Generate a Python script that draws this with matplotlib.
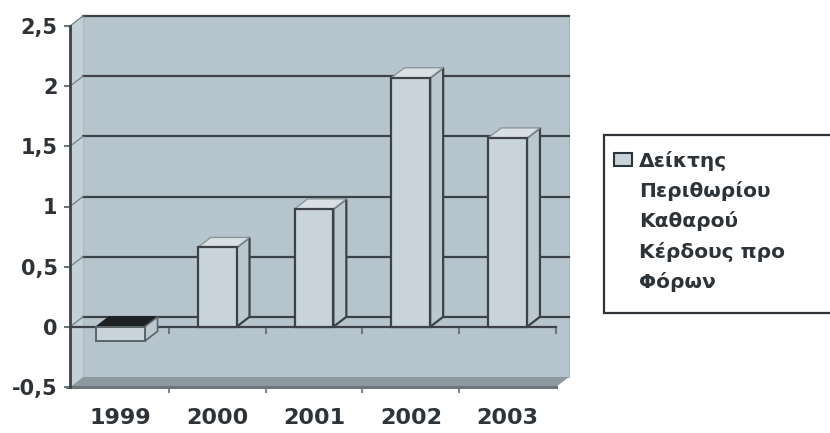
import matplotlib
matplotlib.use("Agg")
import matplotlib.pyplot as plt
from matplotlib.patches import Rectangle, Polygon

years = ["1999", "2000", "2001", "2002", "2003"]
values = [-0.12, 0.66, 0.98, 2.07, 1.57]
yticks = [-0.5, 0, 0.5, 1, 1.5, 2, 2.5]
ytick_labels = ["-0,5", "0", "0,5", "1", "1,5", "2", "2,5"]
legend_lines = ["Δείκτης", "Περιθωρίου", "Καθαρού", "Κέρδους προ", "Φόρων"]

W, H = 830, 433
fig = plt.figure(figsize=(W / 100, H / 100), dpi=100)
fig.patch.set_facecolor("white")

ax_l, ax_r, ax_t, ax_b = 70, 556, 26, 387
ax = fig.add_axes([ax_l / W, (H - ax_b) / H, (ax_r - ax_l) / W, (ax_b - ax_t) / H])
xmin, xmax = -0.52, 4.5
ymin, ymax = -0.5, 2.5
ax.set_xlim(xmin, xmax)
ax.set_ylim(ymin, ymax)
ax.set_facecolor("none")

# depth offsets in data units (13 px right, 10 px up)
dx = 13 / ((ax_r - ax_l) / (xmax - xmin))
dy = 10 / ((ax_b - ax_t) / (ymax - ymin))

line_c = "#3c4247"
txt_c = "#2e3338"
wall_c = "#b6c5cd"
side_c = "#c3d0d6"
floor_c = "#8e999f"
bar_c = "#c9d3da"
top_c = "#d8e0e5"
bside_c = "#bcc8cf"

# back wall
ax.add_patch(Rectangle((xmin + dx, ymin + dy), xmax - xmin, ymax - ymin,
                       facecolor=wall_c, edgecolor="#aab8c0", lw=0.8, zorder=0, clip_on=False))
# side wall
ax.add_patch(Polygon([(xmin, ymin), (xmin + dx, ymin + dy), (xmin + dx, ymax + dy), (xmin, ymax)],
                     closed=True, facecolor=side_c, edgecolor="none", zorder=0.5, clip_on=False))
# floor
ax.add_patch(Polygon([(xmin, ymin), (xmax, ymin), (xmax + dx, ymin + dy), (xmin + dx, ymin + dy)],
                     closed=True, facecolor=floor_c, edgecolor="none", zorder=0.6, clip_on=False))

# gridlines on back wall + slant on side wall
for yv in yticks[1:]:
    ax.plot([xmin + dx, xmax + dx], [yv + dy, yv + dy], color=line_c, lw=1.6, zorder=1, clip_on=False)
    ax.plot([xmin, xmin + dx], [yv, yv + dy], color="#7d878d", lw=1.0, zorder=1, clip_on=False)

# category axis line at 0 (front)
ax.plot([xmin, xmax], [0, 0], color=line_c, lw=1.6, zorder=1.5, clip_on=False)
for xb in [0.5, 1.5, 2.5, 3.5, 4.5]:
    ax.plot([xb, xb], [-0.02, -0.05], color="#6c767c", lw=1.5, zorder=1.5, clip_on=False)

# bars (3D-like)
bw = 0.40
for i, v in enumerate(values):
    x0, x1 = i - bw / 2, i + bw / 2
    if v >= 0:
        ax.add_patch(Polygon([(x1, 0), (x1 + dx, dy), (x1 + dx, v + dy), (x1, v)], closed=True,
                             facecolor=bside_c, edgecolor=line_c, lw=1.6, zorder=3))
        ax.add_patch(Polygon([(x0, v), (x1, v), (x1 + dx, v + dy), (x0 + dx, v + dy)], closed=True,
                             facecolor=top_c, edgecolor="#8c969c", lw=1.0, zorder=3))
        ax.add_patch(Rectangle((x0, 0), bw, v, facecolor=bar_c, edgecolor=line_c, lw=1.6, zorder=4))
    else:
        bwn = 0.5
        x0, x1 = i - bwn / 2, i + bwn / 2
        ax.add_patch(Polygon([(x0, 0), (x1, 0), (x1 + dx, dy), (x0 + dx, dy)], closed=True,
                             facecolor="#1e2124", edgecolor="#1e2124", lw=1.0, zorder=3))
        ax.add_patch(Polygon([(x1, v), (x1 + dx, v + dy), (x1 + dx, dy), (x1, 0)], closed=True,
                             facecolor=bside_c, edgecolor="#5a6368", lw=1.2, zorder=3))
        ax.add_patch(Rectangle((x0, v), bwn, -v, facecolor=bar_c, edgecolor="#5a6368", lw=1.4, zorder=4))

# axes styling
for s in ["top", "right", "bottom"]:
    ax.spines[s].set_visible(False)
ax.spines["left"].set_color(line_c)
ax.spines["left"].set_linewidth(2.0)
ax.spines["left"].set_zorder(5)
ax.plot([xmin - 0.03, xmax], [ymin, ymin], color="#6c767c", lw=2.2, zorder=5, clip_on=False)

ax.set_yticks(yticks)
ax.set_yticklabels(ytick_labels)
ax.tick_params(axis="y", length=4, width=1.5, color="#6c767c", pad=5)
ax.set_xticks(range(len(years)))
ax.set_xticklabels(years)
ax.tick_params(axis="x", length=0, pad=15)
ax.set_xticks([0.5, 1.5, 2.5, 3.5], minor=True)
ax.tick_params(axis="x", which="minor", length=4, width=1.5, color="#7d878d")
for lab in ax.get_yticklabels():
    lab.set_fontfamily("DejaVu Sans")
    lab.set_fontweight("bold")
    lab.set_fontsize(15)
    lab.set_color(txt_c)
for lab in ax.get_xticklabels():
    lab.set_fontfamily("DejaVu Sans")
    lab.set_fontweight("bold")
    lab.set_fontsize(16)
    lab.set_color(txt_c)

# legend box (extends beyond right edge)
lg_l, lg_t, lg_b = 604, 135, 313
fig.patches.append(Rectangle((lg_l / W, (H - lg_b) / H), (W + 10 - lg_l) / W, (lg_b - lg_t) / H,
                             transform=fig.transFigure, facecolor="white", edgecolor=txt_c,
                             lw=1.6, clip_on=False))
fig.patches.append(Rectangle((614 / W, (H - 166) / H), 18 / W, 13 / H, transform=fig.transFigure,
                             facecolor=bar_c, edgecolor=txt_c, lw=1.5))
for k, line in enumerate(legend_lines):
    base = 167 + 30.2 * k
    fig.text(639 / W, (H - base) / H, line, ha="left", va="baseline", fontsize=14.5,
             fontweight="bold", family="DejaVu Sans", color=txt_c)

fig.savefig("out.png", dpi=100)
